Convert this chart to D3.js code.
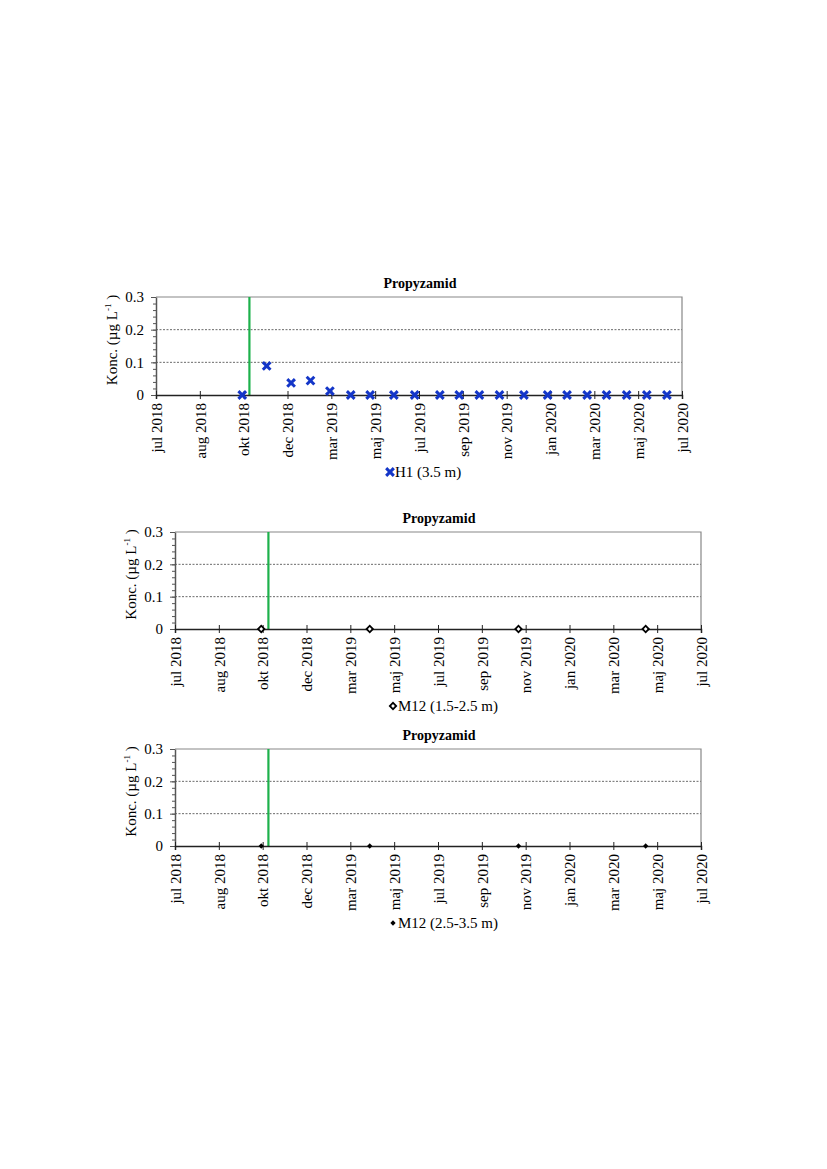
<!DOCTYPE html>
<html>
<head>
<meta charset="utf-8">
<script src="https://cdn.jsdelivr.net/npm/d3@7"></script>
<style>
    body { margin: 0; background: #fff; }
    text { font-family: "Liberation Serif", "Times New Roman", serif; fill: #000; }
</style>
</head>
<body>
<div id="chart"></div>
<script>
// Data
var parse = d3.timeParse("%Y-%m-%d");

// x axis: ticks every 61 days starting jul 2018
var tickDates = ["2018-07-01", "2018-08-31", "2018-10-31", "2018-12-31", "2019-03-02", "2019-05-02",
    "2019-07-02", "2019-09-01", "2019-11-01", "2020-01-01", "2020-03-02", "2020-05-02", "2020-07-02"];
var tickLabels = ["jul 2018", "aug 2018", "okt 2018", "dec 2018", "mar 2019", "maj 2019",
    "jul 2019", "sep 2019", "nov 2019", "jan 2020", "mar 2020", "maj 2020", "jul 2020"];
var yTicks = [0, 0.1, 0.2, 0.3];
var yMinorTicks = [0, 0.02, 0.04, 0.06, 0.08, 0.1, 0.12, 0.14, 0.16, 0.18, 0.2, 0.22, 0.24, 0.26, 0.28, 0.3];

// application date (green line)
var sprayDate = "2018-11-08";

// H1 (3.5 m)
var h1Dates = ["2018-10-29", "2018-12-02", "2019-01-05", "2019-02-01", "2019-02-28", "2019-03-29",
    "2019-04-25", "2019-05-28", "2019-06-26", "2019-07-31", "2019-08-27", "2019-09-24", "2019-10-22",
    "2019-11-25", "2019-12-28", "2020-01-24", "2020-02-21", "2020-03-19", "2020-04-16", "2020-05-14",
    "2020-06-11"];
var h1Values = [0, 0.089, 0.037, 0.044, 0.012, 0, 0, 0, 0, 0, 0, 0, 0, 0, 0, 0, 0, 0, 0, 0, 0];

// M12 (1.5-2.5 m) and M12 (2.5-3.5 m)
var m12Dates = ["2018-10-29", "2019-03-29", "2019-10-22", "2020-04-16"];
var m12UpperValues = [0, 0, 0, 0];
var m12LowerValues = [0, 0, 0, 0];

var title = "Propyzamid";

// Page
var svg = d3.select("#chart")
    .append("svg")
    .attr("width", 827)
    .attr("height", 1169);

// One panel per sampling point
var panels = [
    { left: 156, right: 682, top: 297, bottom: 395, dates: h1Dates, values: h1Values,
      marker: "x", legend: "H1 (3.5 m)", legendX: 390, legendY: 477 },
    { left: 175, right: 701, top: 532, bottom: 629, dates: m12Dates, values: m12UpperValues,
      marker: "open", legend: "M12 (1.5-2.5 m)", legendX: 393, legendY: 711 },
    { left: 175, right: 701, top: 749, bottom: 846, dates: m12Dates, values: m12LowerValues,
      marker: "filled", legend: "M12 (2.5-3.5 m)", legendX: 393, legendY: 928 }
];

panels.forEach(drawPanel);

function drawPanel(p) {
    var x = d3.scaleTime()
        .domain([parse(tickDates[0]), parse(tickDates[tickDates.length - 1])])
        .range([p.left, p.right]);
    var y = d3.scaleLinear()
        .domain([0, 0.3])
        .range([p.bottom, p.top]);

    var g = svg.append("g");

    // Title
    g.append("text")
        .attr("x", (p.left + p.right) / 2 + 1)
        .attr("y", p.top - 9)
        .attr("text-anchor", "middle")
        .attr("font-weight", "bold")
        .attr("font-size", 14)
        .text(title);

    // Gridlines at 0.1 and 0.2
    g.selectAll(".grid")
        .data([0.1, 0.2])
        .enter().append("line")
        .attr("x1", p.left)
        .attr("x2", p.right)
        .attr("y1", d => y(d))
        .attr("y2", d => y(d))
        .attr("stroke", "#444")
        .attr("stroke-width", 0.8)
        .attr("stroke-dasharray", "2,1.5");

    // Plot border (top and right)
    g.append("path")
        .attr("d", "M" + p.left + "," + y(0.3) + "H" + p.right + "V" + y(0))
        .attr("fill", "none")
        .attr("stroke", "#888")
        .attr("stroke-width", 1.2);

    // Green line for application
    g.append("line")
        .attr("x1", x(parse(sprayDate)))
        .attr("x2", x(parse(sprayDate)))
        .attr("y1", y(0.3))
        .attr("y2", y(0))
        .attr("stroke", "#1db14b")
        .attr("stroke-width", 2.2);

    // Y axis with minor ticks
    var yMinor = g.append("g")
        .attr("transform", "translate(" + p.left + ",0)")
        .call(d3.axisLeft(y).tickValues(yMinorTicks).tickSize(3).tickFormat(""));
    yMinor.select(".domain").remove();
    yMinor.selectAll("line").attr("stroke", "#555");

    var yAxis = g.append("g")
        .attr("transform", "translate(" + p.left + ",0)")
        .call(d3.axisLeft(y).tickValues(yTicks).tickSize(5).tickSizeOuter(0).tickPadding(7)
            .tickFormat(d => d === 0 ? "0" : d3.format(".1f")(d)));
    yAxis.select(".domain").attr("stroke", "#555").attr("stroke-width", 1.5);
    yAxis.selectAll("line").attr("stroke", "#555");
    yAxis.selectAll("text")
        .attr("font-family", "Liberation Serif")
        .attr("font-size", 15)
        .attr("fill", "#000");

    // Y axis title
    var ylab = g.append("text")
        .attr("transform", "translate(" + (p.left - 39) + "," + ((p.top + p.bottom) / 2 - 6) + ") rotate(-90)")
        .attr("text-anchor", "middle")
        .attr("font-size", 15);
    ylab.append("tspan").text("Konc. (µg L");
    ylab.append("tspan").attr("font-size", 9).attr("dy", -6).text("-1");
    ylab.append("tspan").attr("dy", 6).text(" )");

    // X axis at 0, ticks crossing the line
    var xAxis = g.append("g")
        .attr("transform", "translate(0," + y(0) + ")")
        .call(d3.axisBottom(x)
            .tickValues(tickDates.map(parse))
            .tickFormat((d, i) => tickLabels[i])
            .tickSizeOuter(0)
            .tickSize(4)
            .tickPadding(8));
    xAxis.select(".domain").attr("stroke", "#222").attr("stroke-width", 1.5);
    xAxis.selectAll("line")
        .attr("y1", -4)
        .attr("stroke", "#222");
    xAxis.selectAll("text")
        .attr("font-family", "Liberation Serif")
        .attr("font-size", 15)
        .attr("fill", "#000")
        .attr("text-anchor", "end")
        .attr("dy", "0.35em")
        .attr("transform", "rotate(-90)")
        .attr("x", -8)
        .attr("y", 0);

    // Points
    var points = p.dates.map((d, i) => ({ date: parse(d), value: p.values[i] }));
    drawMarkers(g, points, x, y, p.marker);

    // Legend
    drawMarkers(g, [{ lx: p.legendX, ly: p.legendY - 5 }], null, null, p.marker);
    g.append("text")
        .attr("x", p.legendX + 5)
        .attr("y", p.legendY)
        .attr("font-size", 15)
        .text(p.legend);
}

function drawMarkers(g, pts, x, y, marker) {
    var px = d => x ? x(d.date) : d.lx;
    var py = d => y ? y(d.value) : d.ly;
    var sel = g.append("g").selectAll("path").data(pts).enter().append("path")
        .attr("transform", d => "translate(" + px(d) + "," + py(d) + ")");
    if (marker === "x") {
        sel.attr("d", d3.symbol().type(d3.symbolX).size(40))
            .attr("fill", "none")
            .attr("stroke", "#1436c8")
            .attr("stroke-width", 3);
    } else if (marker === "open") {
        sel.attr("transform", d => "translate(" + px(d) + "," + py(d) + ") rotate(45)")
            .attr("d", d3.symbol().type(d3.symbolSquare).size(20))
            .attr("fill", "#fff")
            .attr("stroke", "#000")
            .attr("stroke-width", 1.8);
    } else {
        sel.attr("transform", d => "translate(" + px(d) + "," + py(d) + ") rotate(45)")
            .attr("d", d3.symbol().type(d3.symbolSquare).size(14))
            .attr("fill", "#000");
    }
}
</script>
</body>
</html>
